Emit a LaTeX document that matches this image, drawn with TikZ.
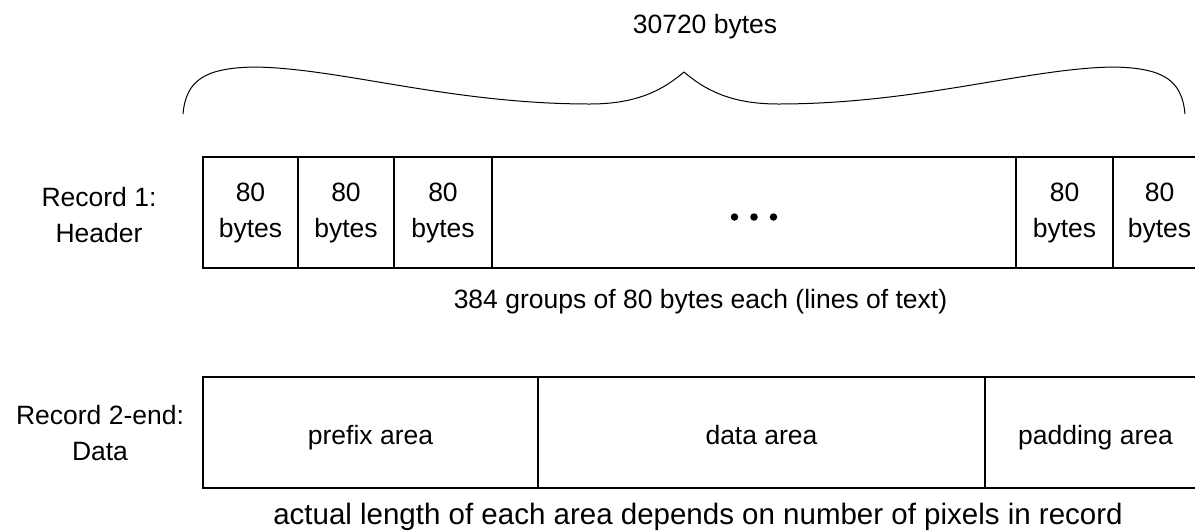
\documentclass[tikz,border=0pt]{standalone}
\usepackage{fontspec}
\setmainfont{Liberation Sans}
\begin{document}
\begin{tikzpicture}[x=1pt,y=-1pt,
  every node/.style={inner sep=0pt, outer sep=0pt, font=\fontsize{26.5}{36}\selectfont},
  cell/.style={draw, line width=1.3pt, minimum height=111pt, anchor=north west, align=center},
  onecell/.style={cell, text height=23pt, text depth=0pt},
  lbl/.style={align=center},
  dot/.style={circle, fill, minimum size=7.5pt, inner sep=0pt}]
\useasboundingbox (0,0) rectangle (1195,531);
% title brace
\node[anchor=base] (total) at (705,33) {30720 bytes};
\draw[line width=1pt, line join=round]
  (183,114) .. controls (186,80) and (205,68) .. (254,67)
  .. controls (340,68) and (450,104) .. (590,104)
  .. controls (640,104) and (665,88) .. (684,72)
  .. controls (703,88) and (728,104) .. (778,104)
  .. controls (918,104) and (1028,68) .. (1114,67)
  .. controls (1163,68) and (1182,80) .. (1185,114);
% record 1
\node[lbl] (r1) at (99,215.5) {Record 1:\\Header};
\node[cell, minimum width=95pt] (h1) at (203,157) {80\\bytes};
\node[cell, minimum width=96pt] (h2) at (298,157) {80\\bytes};
\node[cell, minimum width=98pt] (h3) at (394,157) {80\\bytes};
\node[cell, minimum width=524pt] (hd) at (492,157) {};
\node[cell, minimum width=97pt] (h4) at (1016,157) {80\\bytes};
\node[cell, minimum width=93pt] (h5) at (1113,157) {80\\bytes};
\node[dot] (d1) at (734.5,217) {};
\node[dot] (d2) at (754,217) {};
\node[dot] (d3) at (773.5,217) {};
\node[anchor=base] (groups) at (700.5,308) {384 groups of 80 bytes each (lines of text)};
% record 2
\node[lbl] (r2) at (100,433) {Record 2-end:\\Data};
\node[onecell, minimum width=335pt] (pa) at (203,377) {prefix area};
\node[onecell, minimum width=447pt] (da) at (538,377) {data area};
\node[onecell, minimum width=221pt] (pd) at (985,377) {padding area};
\node[anchor=base, font=\fontsize{29.5}{36}\selectfont] (note) at (698,524) {actual length of each area depends on number of pixels in record};
\end{tikzpicture}
\end{document}
